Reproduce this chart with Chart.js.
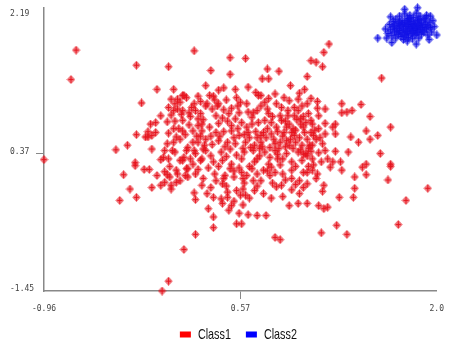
<!DOCTYPE html>
<html>
<head>
<meta charset="utf-8">
<script src="https://cdn.jsdelivr.net/npm/chart.js@4/dist/chart.umd.min.js"></script>
<style>
  html, body { margin: 0; padding: 0; background: #fff; }
  canvas { display: block; }
</style>
</head>
<body>
<canvas id="scatter" width="449" height="342"></canvas>
<script>
// Series names and axis ticks
const seriesNames = ['Class1', 'Class2'];
const xTickValues = [-0.96, 0.57, 2.10];
const xTickLabels = ['-0.96', '0.57', '2.0'];
const yTickValues = [-1.45, 0.37, 2.19];

// Class1: wide red cloud
const class1Points = [
  [-0.71,1.74],[-0.75,1.35],[-0.96,0.29],[-0.24,1.54],[0.01,1.52],[-0.08,1.22],[-0.20,1.04],[0.03,1.09],[0.01,0.98],[0.03,0.88],
  [-0.05,0.87],[0.00,0.79],[-0.13,0.76],[-0.09,0.78],[-0.15,0.66],[-0.09,0.65],[-0.15,0.59],[-0.24,0.62],[0.01,0.64],[-0.31,0.48],
  [-0.40,0.42],[-0.12,0.43],[0.00,0.50],[-0.02,0.41],[-0.25,0.25],[-0.05,0.29],[0.01,0.30],[-0.34,0.09],[-0.25,0.21],[-0.18,0.16],
  [-0.14,0.16],[-0.08,0.08],[-0.02,0.13],[0.00,0.09],[0.02,0.06],[-0.02,-0.01],[-0.05,-0.05],[-0.12,-0.08],[0.03,-0.10],[-0.29,-0.10],
  [-0.24,-0.21],[-0.37,-0.25],[0.01,-1.32],[-0.04,-1.45],[0.05,1.22],[0.10,1.05],[0.13,1.14],[0.15,1.11],[0.08,0.96],[0.11,0.89],
  [0.21,1.03],[0.22,0.94],[0.24,0.83],[0.38,0.87],[0.31,1.03],[0.35,0.96],[0.39,1.00],[0.24,0.74],[0.20,0.67],[-0.12,0.61],
  [-0.17,0.59],[0.05,0.52],[0.04,0.41],[-0.03,0.32],[0.08,0.10],[0.10,0.01],[0.15,0.17],[0.16,0.06],[0.21,0.41],
  [0.26,0.28],[0.24,0.52],[0.29,0.48],[0.10,0.28],[0.13,0.32],[0.07,0.15],[0.03,-0.05],
  [0.21,1.73],[0.49,1.64],[0.61,1.63],[0.34,1.47],[0.49,1.42],[0.78,1.49],[0.87,1.46],[0.74,1.36],[0.79,1.36],[0.30,1.27],
  [0.44,1.24],[0.53,1.22],[0.63,1.25],[0.69,1.18],[0.71,1.14],[0.73,1.14],[0.96,1.27],[1.03,1.17],[1.07,1.22],[0.12,1.14],
  [0.08,1.09],[0.06,1.03],[0.33,1.14],[0.36,1.13],[0.40,1.21],[0.54,1.11],[0.79,1.10],[0.91,1.11],[1.02,1.09],[0.30,1.00],
  [0.40,1.03],[0.55,1.00],[0.62,1.03],[0.73,1.00],[0.85,1.03],[0.89,0.98],[0.95,1.07],[0.99,0.98],[1.05,1.00],[0.05,0.94],
  [0.12,0.94],[0.17,0.91],[0.50,0.97],[0.56,0.91],[0.67,0.91],[0.79,0.90],[0.88,0.87],[0.94,0.87],[1.02,0.94],[0.12,0.81],
  [0.27,0.76],[0.40,0.77],[0.50,0.74],[0.58,0.78],[0.66,0.76],[0.81,0.78],[0.89,0.81],[0.95,0.76],[1.04,0.76],[0.05,0.70],
  [0.12,0.67],[0.27,0.67],[0.38,0.65],[0.50,0.67],[0.56,0.61],[0.63,0.65],[0.73,0.61],[0.81,0.63],[0.91,0.65],[0.99,0.61],
  [1.07,0.65],[0.07,0.59],[0.20,0.52],[0.30,0.56],[0.40,0.54],[0.47,0.52],[0.53,0.50],[0.61,0.52],[0.68,0.48],[0.73,0.52],
  [0.84,0.50],[0.93,0.54],[1.00,0.52],[1.05,0.48],[0.06,0.39],[0.15,0.41],[0.22,0.37],[0.30,0.41],[0.42,0.39],[0.49,0.43],
  [0.60,0.39],[0.67,0.41],[0.76,0.39],[0.84,0.41],[0.93,0.37],[1.02,0.39],[0.12,0.28],[0.20,0.23],[0.27,0.30],[0.43,0.28],
  [0.50,0.23],[0.58,0.30],[0.68,0.26],[0.79,0.23],[0.86,0.30],[0.97,0.26],[1.05,0.28],
  [1.26,1.82],[1.22,1.71],[1.12,1.60],[1.16,1.58],[1.21,1.52],[1.09,1.39],[1.67,1.37],[1.12,1.10],[1.17,1.06],[1.36,1.03],
  [1.51,1.02],[1.09,1.03],[1.17,0.97],[1.23,0.96],[1.36,0.91],[1.40,0.92],[1.44,0.94],[1.58,0.86],[1.18,0.87],[1.12,0.81],
  [1.13,0.76],[1.23,0.77],[1.29,0.72],[1.18,0.70],[1.74,0.72],[1.55,0.67],[1.64,0.61],[1.31,0.63],[1.43,0.59],[1.49,0.52],
  [1.09,0.56],[1.14,0.61],[1.11,0.48],[1.21,0.50],[1.23,0.41],[1.31,0.40],[1.41,0.39],[1.66,0.37],[1.09,0.34],[1.13,0.30],
  [1.20,0.26],[1.29,0.26],[1.35,0.26],[1.55,0.23],[1.74,0.23],
  [0.63,0.92],[0.70,0.94],[0.99,0.87],[1.04,0.83],[1.31,0.76],[1.58,0.56],[0.76,0.81],[0.75,0.65],[0.97,0.65],[1.12,0.65],
  [1.23,0.63],[0.88,0.52],[0.65,0.45],[0.72,0.34],[0.80,0.32],[0.95,0.48],[1.08,0.37],[1.13,0.48],[1.52,0.19],[1.46,0.06],
  [1.72,0.02],[1.36,0.15],
  [1.09,0.12],[1.13,0.15],[1.17,0.10],[1.27,0.19],[1.55,0.09],[1.74,0.20],[1.09,-0.03],[1.22,-0.05],[1.21,-0.13],[1.46,-0.09],
  [1.45,-0.21],[2.03,-0.09],[1.34,-0.21],[1.86,-0.25],[1.09,-0.29],[1.18,-0.32],[1.22,-0.36],[1.25,-0.34],[1.32,-0.58],[1.80,-0.57],
  [1.20,-0.68],[1.40,-0.70],
  [0.07,-0.01],[0.16,0.17],[0.22,0.10],[0.28,0.04],[0.27,-0.05],[0.37,0.10],[0.38,0.01],[0.43,-0.03],[0.49,0.17],[0.45,0.08],
  [0.52,0.06],[0.58,0.12],[0.59,0.04],[0.66,0.17],[0.67,0.01],[0.70,0.10],[0.75,0.15],[0.73,0.01],[0.81,0.19],[0.80,0.08],
  [0.84,0.12],[0.90,0.10],[0.97,0.15],[0.97,0.04],[1.03,0.01],[1.06,0.12],[0.85,-0.07],[0.89,-0.05],[0.97,-0.11],[0.21,-0.15],
  [0.22,-0.24],[0.31,-0.16],[0.36,-0.21],[0.42,-0.23],[0.47,-0.14],[0.47,-0.21],[0.54,-0.12],[0.57,-0.18],[0.59,-0.10],[0.61,-0.18],
  [0.68,-0.12],[0.75,-0.16],[0.81,-0.22],[1.03,-0.16],[0.32,-0.36],[0.43,-0.29],[0.52,-0.26],[0.50,-0.32],[0.48,-0.38],[0.59,-0.31],
  [0.36,-0.47],[0.56,-0.42],[0.63,-0.44],[0.70,-0.45],[0.77,-0.45],[0.95,-0.32],[1.02,-0.29],[0.54,-0.56],[0.58,-0.56],[0.36,-0.61],
  [0.22,-0.70],[0.84,-0.74],[0.88,-0.77],[0.13,-0.90],
  [0.18,0.86],[0.26,0.90],[0.44,0.95],[0.47,0.80],[0.55,0.70],[0.60,0.62],[0.70,0.58],[0.78,0.70],[0.86,0.66],[0.93,0.72],
  [1.00,0.68],[1.06,0.72],[1.10,0.90],[1.06,0.86],[0.92,0.46],[0.98,0.44],[1.04,0.42],[1.10,0.44],[0.86,0.36],[0.80,0.45],
  [0.72,0.44],[0.54,0.35],[0.46,0.33],[0.34,0.34],[0.28,0.43],[0.16,0.45],[0.10,0.56],[0.14,0.62],[0.34,0.60],[0.44,0.66],
  [0.64,0.20],[0.56,0.18],[0.40,0.20],[0.32,0.18],[0.88,0.22],[1.00,0.20],[1.14,0.22],[1.18,0.38],[0.92,0.02],[1.00,-0.04],
  [0.60,-0.02],[0.44,0.04],[0.14,0.08],[0.76,1.05],[0.84,1.16],[0.46,1.08],[0.24,1.13],[1.16,0.56],[1.25,0.30],[0.70,-0.06],
  [0.02,0.20],[0.06,0.80],[0.09,0.70],[0.17,0.75],[0.19,0.98],[0.23,0.60],[0.26,1.06],[0.28,0.82],[0.33,0.72],[0.35,0.49],
  [0.37,1.08],[0.41,0.60],[0.43,0.84],[0.45,0.46],[0.48,0.90],[0.52,0.58],[0.53,0.83],[0.57,1.05],[0.59,0.44],[0.62,0.72],
  [0.64,0.58],[0.66,0.85],[0.69,0.66],[0.71,0.78],[0.74,0.46],[0.77,0.58],[0.78,0.96],[0.82,0.86],[0.83,0.56],[0.85,0.72],
  [0.87,0.44],[0.90,0.60],[0.92,0.80],[0.94,0.94],[0.96,0.56],[0.98,0.70],[1.01,0.82],[1.03,0.58],[1.06,0.36],[1.08,0.78],
  [1.10,0.20],[1.12,0.40],[1.15,0.68],[1.16,0.04],[1.19,0.58],[0.62,0.08],[0.52,0.14],[0.36,0.26],[0.24,0.16],[0.18,0.30],
  [0.90,0.30],[0.78,0.14],[0.70,0.30],[0.46,-0.06],[0.34,-0.08],[0.64,-0.22],[0.90,-0.20],[0.82,-0.02],[1.06,-0.08],[0.26,0.60]
];

// Class2: tight blue cluster, top right
const class2Points = [
  [1.70,2.02],[1.72,1.96],[1.73,2.08],[1.74,2.01],[1.75,1.93],[1.76,2.12],[1.76,2.05],[1.77,1.98],[1.78,1.90],[1.78,2.15],
  [1.79,2.03],[1.80,1.95],[1.80,2.09],[1.81,2.00],[1.81,2.19],[1.82,1.92],[1.82,2.06],[1.83,2.13],[1.83,1.97],[1.84,2.02],
  [1.84,1.88],[1.85,2.10],[1.85,2.22],[1.86,1.95],[1.86,2.05],[1.87,2.16],[1.87,1.99],[1.88,1.91],[1.88,2.08],[1.89,2.02],
  [1.89,2.20],[1.90,1.96],[1.90,2.12],[1.91,2.05],[1.91,1.89],[1.92,2.00],[1.92,2.17],[1.93,2.09],[1.93,1.94],[1.94,2.03],
  [1.94,2.23],[1.95,1.98],[1.95,2.13],[1.96,2.07],[1.96,1.90],[1.97,2.01],[1.97,2.19],[1.98,2.10],[1.98,1.95],[1.99,2.04],
  [2.00,2.14],[2.00,1.98],[2.01,2.08],[2.02,2.02],[2.02,2.20],[2.03,1.94],[2.04,2.11],[2.05,2.04],[2.06,1.98],[2.07,2.13],
  [1.77,2.07],[1.79,1.99],[1.83,2.08],[1.86,2.00],[1.88,2.13],[1.90,2.03],[1.92,2.08],[1.94,1.97],[1.96,2.15],[1.99,2.00],
  [1.85,1.93],[1.89,2.16],[1.93,2.05],[1.97,2.06],[2.01,2.16],[1.81,2.11],[1.87,2.10],[1.91,1.97],[1.95,2.09],[2.03,2.06],
  [1.64,1.90],[2.10,1.94],[1.95,2.30],[1.85,2.28],[2.05,2.19],[1.75,1.84],[1.94,1.82],[1.87,1.86],[1.71,1.90],[2.08,2.05],
  [1.74,2.18],[2.04,1.88]
];

// Small diamond marker with a plus through it
function makeMarker(r, g, b) {
  const c = document.createElement('canvas');
  c.width = 9;
  c.height = 9;
  const ctx = c.getContext('2d');
  ctx.beginPath();
  ctx.moveTo(4.5, 0.3);
  ctx.lineTo(8.4, 4.5);
  ctx.lineTo(4.5, 8.7);
  ctx.lineTo(0.6, 4.5);
  ctx.closePath();
  ctx.fillStyle = `rgba(${r},${g},${b},0.6)`;
  ctx.fill();
  ctx.strokeStyle = `rgba(${r},${g},${b},0.35)`;
  ctx.lineWidth = 1;
  ctx.stroke();
  ctx.fillStyle = `rgba(${r},${g},${b},0.85)`;
  ctx.fillRect(4, 1, 1, 7);
  ctx.fillRect(2, 4, 5, 1);
  ctx.fillStyle = `rgb(${r},${g},${b})`;
  ctx.fillRect(4, 3, 1, 3);
  ctx.fillRect(3, 4, 3, 1);
  return c;
}

const redMarker = makeMarker(230, 20, 30);
const blueMarker = makeMarker(20, 20, 230);

// Legend drawn under the plot, centred on the chart area
const classLegend = {
  id: 'classLegend',
  afterDraw(chart) {
    const { ctx, chartArea } = chart;
    const squeeze = 0.72;
    ctx.save();
    ctx.font = "15px 'Liberation Sans', Arial, sans-serif";
    ctx.textBaseline = 'middle';
    ctx.textAlign = 'left';
    const items = chart.data.datasets.map(ds => ({
      label: ds.label,
      color: ds.legendColor,
      w: 11 + 7 + ctx.measureText(ds.label).width * squeeze
    }));
    const gap = 15;
    const total = items.reduce((s, it) => s + it.w, 0) + gap * (items.length - 1);
    let x = (chartArea.left + chartArea.right) / 2 - total / 2 - 2;
    const y = 334.5;
    items.forEach(it => {
      ctx.fillStyle = it.color;
      ctx.fillRect(x, y - 3, 11, 6);
      ctx.save();
      ctx.translate(x + 18, y);
      ctx.scale(squeeze, 1);
      ctx.fillStyle = '#111';
      ctx.fillText(it.label, 0, 0);
      ctx.restore();
      x += it.w + gap;
    });
    ctx.restore();
  }
};

const tickFont = { family: "'DejaVu Sans Mono', monospace", size: 8 };

new Chart(document.getElementById('scatter'), {
  type: 'scatter',
  data: {
    datasets: [
      {
        label: seriesNames[0],
        data: class1Points.map(([x, y]) => ({ x, y })),
        pointStyle: redMarker,
        pointRadius: 4,
        legendColor: '#ff0000'
      },
      {
        label: seriesNames[1],
        data: class2Points.map(([x, y]) => ({ x, y })),
        pointStyle: blueMarker,
        pointRadius: 4,
        legendColor: '#0000ff'
      }
    ]
  },
  options: {
    responsive: false,
    animation: false,
    clip: false,
    layout: { padding: { top: 7, right: 6, bottom: 0, left: 10 } },
    plugins: {
      legend: { display: false },
      tooltip: { enabled: false }
    },
    scales: {
      x: {
        type: 'linear',
        min: xTickValues[0],
        max: xTickValues[2],
        afterBuildTicks: scale => {
          scale.ticks = xTickValues.map(v => ({ value: v }));
        },
        afterFit: scale => { scale.height = 51; },
        ticks: {
          font: tickFont,
          color: '#444',
          padding: 5,
          maxRotation: 0,
          autoSkip: false,
          callback: (value, index) => xTickLabels[index]
        },
        grid: {
          drawOnChartArea: false,
          drawTicks: true,
          tickLength: 8,
          color: ctx => ctx.index === 1 ? '#888' : 'rgba(0,0,0,0)'
        },
        border: { display: true, color: '#888', width: 1.5 }
      },
      y: {
        type: 'linear',
        min: -1.45,
        max: 2.30,
        afterBuildTicks: scale => {
          scale.ticks = yTickValues.map(v => ({ value: v }));
        },
        afterFit: scale => { scale.width = 34; },
        ticks: {
          font: tickFont,
          color: '#444',
          crossAlign: 'far',
          labelOffset: -2,
          autoSkip: false,
          callback: value => value.toFixed(2)
        },
        grid: {
          drawOnChartArea: false,
          drawTicks: true,
          tickLength: 8,
          color: ctx => ctx.index === 1 ? '#888' : 'rgba(0,0,0,0)'
        },
        border: { display: true, color: '#888', width: 1.5 }
      }
    }
  },
  plugins: [classLegend]
});
</script>
</body>
</html>
